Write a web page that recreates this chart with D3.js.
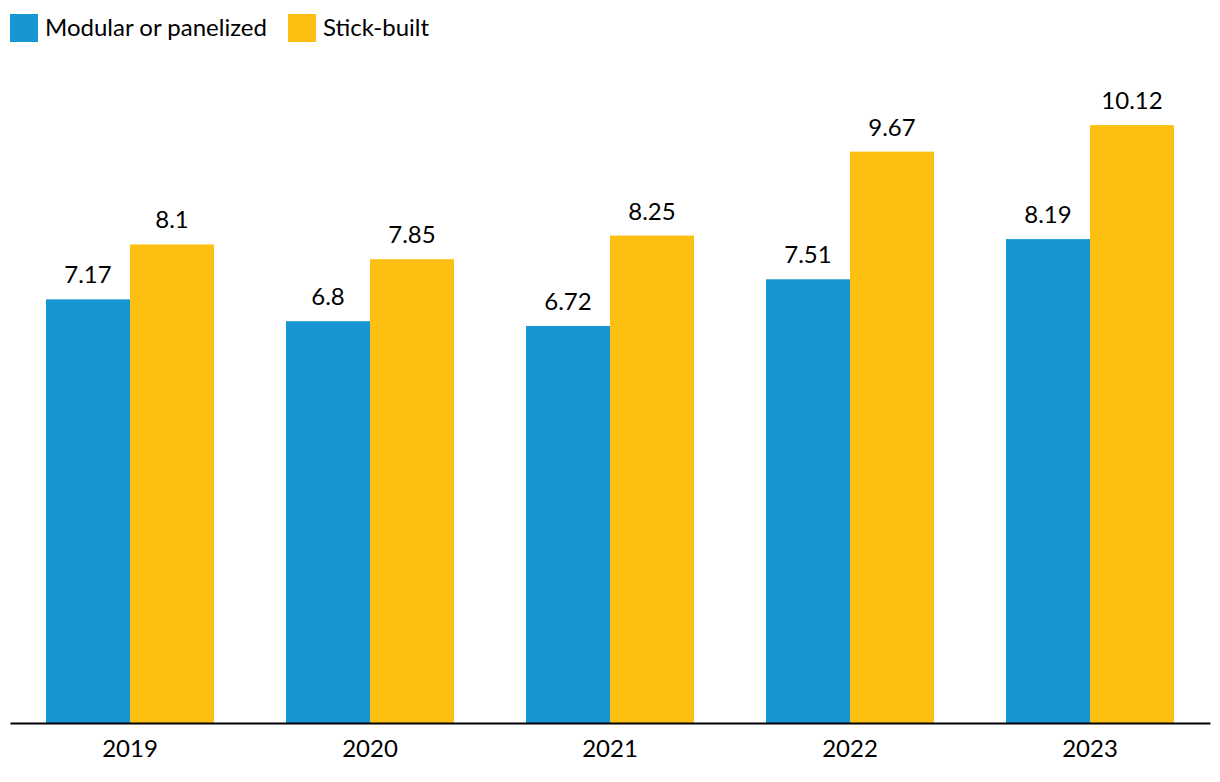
<!DOCTYPE html>
<html>
<head>
<meta charset="utf-8">
<script src="https://cdn.jsdelivr.net/npm/d3@7"></script>
<style>
html,body{margin:0;padding:0;background:#fff;}
svg{display:block;font-family:Lato,"Open Sans",sans-serif;}
</style>
</head>
<body>
<svg id="chart" width="1220" height="782"></svg>
<script>
const years = ["2019","2020","2021","2022","2023"];
const seriesNames = ["Modular or panelized","Stick-built"];
const modular = [7.17, 6.8, 6.72, 7.51, 8.19];
const stick = [8.1, 7.85, 8.25, 9.67, 10.12];
const colors = ["#1696d2","#fdbf11"];

const svg = d3.select("#chart");
const left = 10, right = 1210, base = 723;
const FS = 24;

const x = d3.scaleBand().domain(years).range([left, right]).paddingInner(0.3).paddingOuter(0.15);
const x1 = d3.scaleBand().domain(seriesNames).range([0, x.bandwidth()]);
const y = d3.scaleLinear().domain([0, 12]).range([base, 14]);

const data = years.map((yr,i)=>({year:yr, values:[
  {name:seriesNames[0], v:modular[i]},
  {name:seriesNames[1], v:stick[i]}
]}));

const g = svg.append("g");
const groups = g.selectAll("g.grp").data(data).join("g")
  .attr("transform", d=>`translate(${x(d.year)},0)`);
groups.selectAll("rect").data(d=>d.values).join("rect")
  .attr("x", d=>x1(d.name))
  .attr("width", x1.bandwidth())
  .attr("y", d=>y(d.v))
  .attr("height", d=>base - y(d.v))
  .attr("fill", (d,i)=>colors[i]);
groups.selectAll("text").data(d=>d.values).join("text")
  .attr("x", d=>x1(d.name)+x1.bandwidth()/2)
  .attr("y", d=>y(d.v)-16)
  .attr("text-anchor","middle")
  .attr("font-size",FS)
  .attr("fill","#000")
  .text(d=>d.v);

// axis
const ax = svg.append("g").attr("transform",`translate(0,${base})`)
  .call(d3.axisBottom(x).tickSize(0).tickPadding(17));
ax.select(".domain").attr("stroke","#000").attr("stroke-width",2);
ax.selectAll("text").attr("font-size",FS).attr("font-family","Lato,sans-serif").attr("fill","#000");

// legend
const leg = svg.append("g");
const legX = [10, 288];
seriesNames.forEach((n,i)=>{
  leg.append("rect").attr("x",legX[i]).attr("y",14).attr("width",28).attr("height",28).attr("fill",colors[i]);
  leg.append("text").attr("x",legX[i]+35).attr("y",36).attr("font-size",FS).attr("fill","#000").text(n);
});
</script>
</body>
</html>
